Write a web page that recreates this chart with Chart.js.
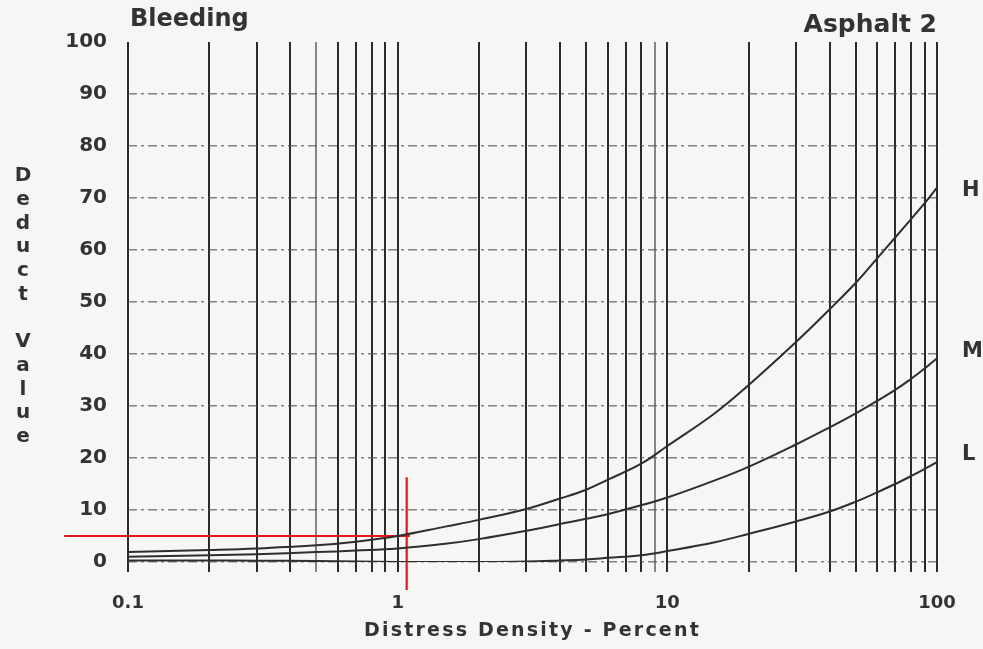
<!DOCTYPE html>
<html><head><meta charset="utf-8">
<script src="https://cdn.jsdelivr.net/npm/chart.js@4.4.1/dist/chart.umd.min.js"></script>
<style>html,body{margin:0;padding:0;background:#f6f6f5;overflow:hidden;} canvas{display:block;}</style>
</head><body>
<canvas id="c" width="983" height="649"></canvas>
<script>
// ---- data ----
const densityPct = [0.1,0.2,0.3,0.5,0.7,1,1.5,2,3,4,5,6,8,10,15,20,30,40,50,60,70,80,90,100];
const deductHigh = [1.9,2.3,2.6,3.2,3.9,5.0,6.8,8.1,10.2,12.2,13.9,15.8,18.9,22.3,28.6,34.0,42.3,48.6,53.7,58.4,62.4,65.9,69.0,72.0];
const deductMed  = [1.0,1.3,1.5,1.9,2.2,2.6,3.5,4.4,6.0,7.3,8.3,9.2,10.9,12.4,15.7,18.3,22.6,25.9,28.6,31.0,33.1,35.2,37.2,39.2];
const deductLow  = [0.3,0.3,0.25,0.2,0.1,0,0,0,0.1,0.3,0.5,0.8,1.3,2.1,3.8,5.4,7.8,9.7,11.6,13.4,15.0,16.5,17.9,19.2];
const severityNames = ['H','M','L'];

const refLineX = [0.058, 1.11];   // red horizontal reading line (density)
const refLineY = [5.0, 5.0];      // deduct value read
const refMarkX = [1.08, 1.08];    // red vertical marker (density)
const refMarkY = [16.3, -5.4];

const xGridValues = [0.1,0.2,0.3,0.4,0.5,0.6,0.7,0.8,0.9,1,2,3,4,5,6,7,8,9,10,20,30,40,50,60,70,80,90,100];
const xTickLabels = {0.1:'0.1', 1:'1', 10:'10', 100:'100'};
const yTickValues = [0,10,20,30,40,50,60,70,80,90,100];

const titleLeft = 'Bleeding';
const titleRight = 'Asphalt 2';
const yAxisTitle = 'Deduct Value';
const xAxisTitle = 'Distress Density - Percent';

// ---- chart ----
const FONT = '"DejaVu Sans", "Liberation Sans", sans-serif';
Chart.defaults.font.family = FONT;
Chart.defaults.color = '#333';

const pts = (xs, ys) => xs.map((x, i) => ({x, y: ys[i]}));
const curve = (label, ys) => ({
  label, data: pts(densityPct, ys), borderColor: '#2e2e2e', borderWidth: 2,
  pointRadius: 0, tension: 0.4, fill: false
});
const red = (label, xs, ys) => ({
  label, data: pts(xs, ys), borderColor: '#e8141b', borderWidth: 2.2,
  pointRadius: 0, tension: 0, clip: false, fill: false
});

const textPlugin = {
  id: 'texts',
  beforeDraw(chart) { chart.ctx.letterSpacing = '2.2px'; },       // only affects the x-axis title layer
  beforeDatasetsDraw(chart) { chart.ctx.letterSpacing = '0px'; },
  afterDraw(chart) {
    const ctx = chart.ctx, ys = chart.scales.y;
    ctx.save();
    ctx.letterSpacing = '0px';
    ctx.fillStyle = '#333';
    ctx.textBaseline = 'alphabetic';
    ctx.font = 'bold 24px ' + FONT;
    ctx.textAlign = 'left';
    ctx.fillText(titleLeft, 130, 26);
    ctx.font = 'bold 25px ' + FONT;
    ctx.textAlign = 'right';
    ctx.fillText(titleRight, 937, 32);
    // severity labels at the end of each curve
    ctx.font = 'bold 21px ' + FONT;
    ctx.textAlign = 'left';
    ctx.textBaseline = 'middle';
    const ends = [deductHigh, deductMed, deductLow];
    const nudge = [3, -7, -8];
    ends.forEach((arr, i) => {
      const y = ys.getPixelForValue(arr[arr.length - 1]) + nudge[i];
      ctx.fillText(severityNames[i], chart.chartArea.right + 25, y);
    });
    // stacked y-axis title
    ctx.font = 'bold 20px ' + FONT;
    ctx.textAlign = 'center';
    const step = 23.7;
    [...yAxisTitle].forEach((ch, i) => {
      if (ch !== ' ') ctx.fillText(ch, 23, 176 + i * step);
    });
    ctx.restore();
  }
};

new Chart(document.getElementById('c'), {
  type: 'line',
  data: {
    datasets: [
      curve(severityNames[0], deductHigh),
      curve(severityNames[1], deductMed),
      curve(severityNames[2], deductLow),
      red('reading', refLineX, refLineY),
      red('marker', refMarkX, refMarkY)
    ]
  },
  options: {
    responsive: false,
    animation: false,
    devicePixelRatio: 1,
    layout: {padding: {top: 42, right: 46, left: 0, bottom: 0}},
    plugins: {legend: {display: false}, tooltip: {enabled: false}, title: {display: false}},
    scales: {
      x: {
        type: 'logarithmic', min: 0.1, max: 100,
        afterBuildTicks: s => { s.ticks = xGridValues.map(v => ({value: v})); },
        afterFit: s => { s.height = 87; },
        border: {display: false},
        grid: {
          color: c => (c.tick && (c.tick.value === 0.5 || c.tick.value === 9)) ? '#858585' : '#2b2b2b',
          lineWidth: 2, tickLength: 10, drawTicks: true,
          tickColor: c => (c.tick && (c.tick.value === 0.5 || c.tick.value === 9)) ? '#858585' : '#2b2b2b'
        },
        ticks: {
          z: 1, autoSkip: false, maxRotation: 0, minRotation: 0, padding: 21,
          color: '#333', font: {size: 18, weight: 'bold'},
          callback: v => xTickLabels[v] || ''
        },
        title: {
          display: true, text: xAxisTitle, color: '#333',
          font: {size: 19, weight: 'bold'}, padding: {top: 0, bottom: 7}
        }
      },
      y: {
        min: 0, max: 100,
        afterBuildTicks: s => { s.ticks = yTickValues.map(v => ({value: v})); },
        afterFit: s => { s.width = 128; },
        border: {display: false, dash: [9, 4, 3, 4]},
        grid: {
          color: c => (c.tick && c.tick.value === 100) ? 'rgba(0,0,0,0)' : 'rgba(80,80,80,0.7)',
          lineWidth: 1.5, drawTicks: false
        },
        ticks: {z: 1, padding: 21, color: '#333', font: {size: 20, weight: 'bold'}}
      }
    }
  },
  plugins: [textPlugin]
});
</script>
</body></html>
